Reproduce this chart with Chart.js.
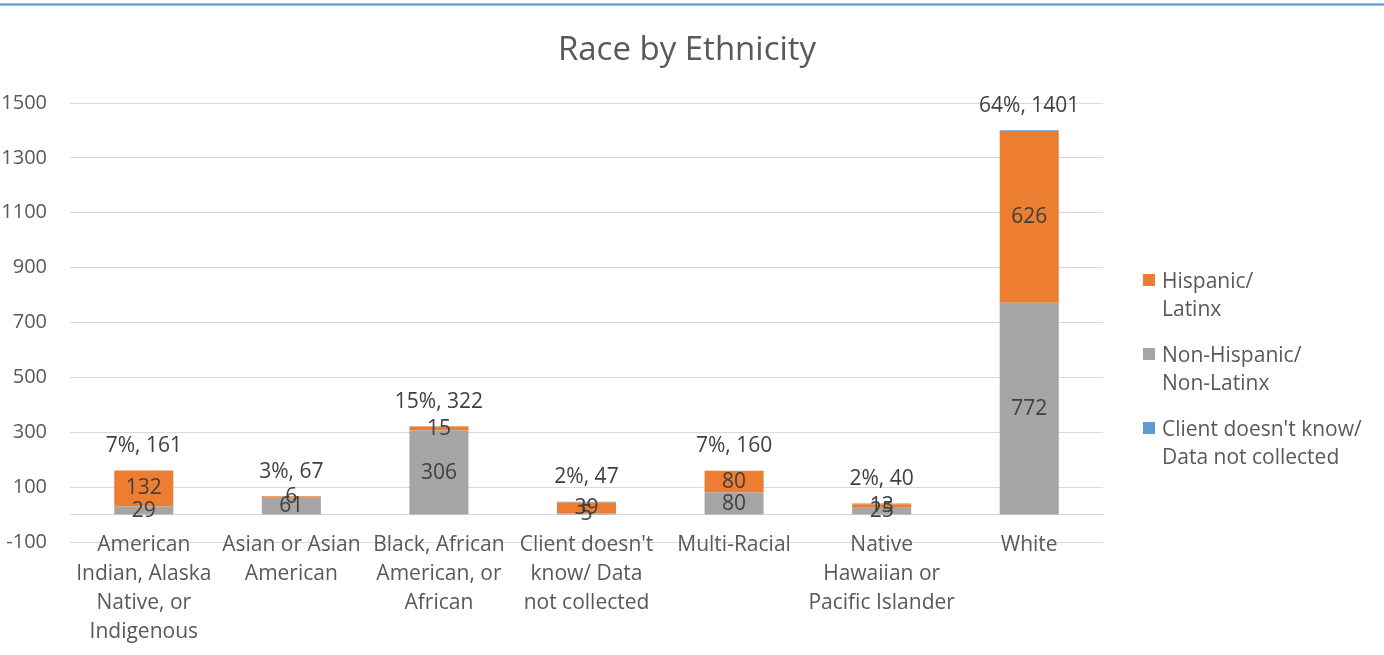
<!DOCTYPE html>
<html>
<head>
<meta charset="utf-8">
<title>Race by Ethnicity</title>
<script src="https://cdn.jsdelivr.net/npm/chart.js@4"></script>
<style>
html, body { margin: 0; padding: 0; background: #fff; }
#wrap { position: relative; width: 1384px; height: 655px; overflow: hidden; font-family: "Open Sans", sans-serif; }
#topline { position: absolute; left: 0; top: 3px; width: 1384px; height: 1px; background: #5B9BD5; border-top: 1px solid #9DC3E6; border-bottom: 1px solid #9DC3E6; }
#title { position: absolute; left: 0; top: 29px; width: 1374px; text-align: center; color: #595959; font-size: 33px; line-height: 38px; }
#legend { position: absolute; left: 1143px; top: 266px; color: #595959; font-size: 21px; line-height: 28px; }
.item { position: relative; padding-left: 19px; margin-bottom: 18px; white-space: nowrap; }
.sw { position: absolute; left: 0; top: 8px; width: 12px; height: 12px; }
canvas { position: absolute; left: 0; top: 0; }
</style>
</head>
<body>
<div id="wrap">
  <canvas id="chart" width="1384" height="655"></canvas>
  <div id="topline"></div>
  <div id="title">Race by Ethnicity</div>
  <div id="legend"></div>
</div>
<script>
// datos
const categories = [
    ["American", "Indian, Alaska", "Native, or", "Indigenous"],
    ["Asian or Asian", "American"],
    ["Black, African", "American, or", "African"],
    ["Client doesn't", "know/ Data", "not collected"],
    ["Multi-Racial"],
    ["Native", "Hawaiian or", "Pacific Islander"],
    ["White"]
];
const nonHispanic = [29, 61, 306, 5, 80, 25, 772];
const hispanic = [132, 6, 15, 39, 80, 13, 626];
const unknown = [0, 0, 1, 3, 0, 2, 3];
const yMin = -100, yMax = 1500, yStep = 200;

const legendItems = [
    { color: '#ED7D31', lines: ['Hispanic/', 'Latinx'] },
    { color: '#A5A5A5', lines: ['Non-Hispanic/', 'Non-Latinx'] },
    { color: '#5B9BD5', lines: ["Client doesn't know/", 'Data not collected'] }
];

const totals = categories.map((_, i) => nonHispanic[i] + hispanic[i] + unknown[i]);
const grandTotal = totals.reduce((a, b) => a + b, 0);

// leyenda html
document.getElementById('legend').innerHTML = legendItems.map(it =>
    `<div class="item"><span class="sw" style="background:${it.color}"></span>${it.lines.join('<br>')}</div>`
).join('');

// etiquetas de valores y totales
const labelPlugin = {
    id: 'barLabels',
    afterDatasetsDraw(chart) {
        const ctx = chart.ctx;
        const yScale = chart.scales.y;
        ctx.save();
        ctx.font = '21px "Open Sans"';
        ctx.fillStyle = '#404040';
        ctx.textAlign = 'center';
        ctx.textBaseline = 'middle';
        [0, 1].forEach(di => {
            const ds = chart.data.datasets[di];
            chart.getDatasetMeta(di).data.forEach((bar, i) => {
                ctx.fillText(ds.data[i], bar.x, (bar.y + bar.base) / 2);
            });
        });
        chart.getDatasetMeta(0).data.forEach((bar, i) => {
            const t = totals[i];
            const pct = Math.round(t / grandTotal * 100);
            ctx.fillText(pct + '%, ' + t, bar.x, yScale.getPixelForValue(t) - 24.5);
        });
        ctx.restore();
    }
};

new Chart(document.getElementById('chart'), {
    type: 'bar',
    data: {
        labels: categories,
        datasets: [
            { label: 'Non-Hispanic/ Non-Latinx', data: nonHispanic, backgroundColor: '#A5A5A5' },
            { label: 'Hispanic/ Latinx', data: hispanic, backgroundColor: '#ED7D31' },
            { label: "Client doesn't know/ Data not collected", data: unknown, backgroundColor: '#5B9BD5' }
        ]
    },
    options: {
        responsive: false,
        animation: false,
        layout: { padding: { left: 1, right: 281, top: 103, bottom: 113 } },
        datasets: { bar: { categoryPercentage: 1, barPercentage: 0.4 } },
        plugins: {
            legend: { display: false },
            title: { display: false },
            tooltip: { enabled: false }
        },
        scales: {
            x: {
                stacked: true,
                position: { y: 0 },
                grid: { display: false, drawTicks: false },
                border: { display: true, color: '#D9D9D9', width: 1 },
                ticks: {
                    color: '#595959',
                    font: { family: 'Open Sans', size: 21, lineHeight: 1.38 },
                    padding: 16,
                    maxRotation: 0,
                    autoSkip: false
                }
            },
            y: {
                stacked: true,
                min: yMin,
                max: yMax,
                grid: { color: '#D9D9D9', drawTicks: false },
                border: { display: false },
                afterFit: s => { s.width = 69; },
                ticks: {
                    stepSize: yStep,
                    color: '#595959',
                    font: { family: 'Open Sans', size: 20 },
                    padding: 23,
                    callback: v => String(v)
                }
            }
        }
    },
    plugins: [labelPlugin]
});
</script>
</body>
</html>
